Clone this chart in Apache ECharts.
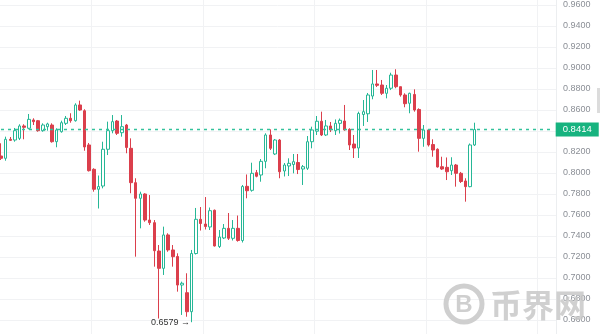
<!DOCTYPE html>
<html><head><meta charset="utf-8">
<script src="https://cdn.jsdelivr.net/npm/echarts/dist/echarts.min.js"></script>
<style>html,body{margin:0;padding:0;background:#fff}#c{width:600px;height:334px}</style>
</head><body><div id="c"></div>
<script>
// OHLC values (103 candles)
const opens = [0.8162,0.8140,0.8321,0.8314,0.8330,0.8448,0.8426,0.8505,0.8498,0.8403,
0.8441,0.8457,0.8298,0.8393,0.8473,0.8521,0.8498,0.8648,0.8593,0.8267,
0.8035,0.7845,0.7876,0.8226,0.8403,0.8495,0.8384,0.8457,0.8235,0.7908,
0.7759,0.7800,0.7552,0.7527,0.7257,0.7092,0.7410,0.7267,0.7205,0.6933,
0.6860,0.6679,0.7233,0.7559,0.7514,0.7486,0.7645,0.7300,0.7381,0.7473,
0.7378,0.7473,0.7357,0.7873,0.7835,0.8003,0.7981,0.8111,0.8362,0.8181,
0.8314,0.8019,0.8067,0.8081,0.8100,0.8038,0.8045,0.8298,0.8398,0.8493,
0.8362,0.8448,0.8403,0.8473,0.8495,0.8416,0.8276,0.8238,0.8557,0.8564,
0.8733,0.8848,0.8838,0.8759,0.8807,0.8933,0.8822,0.8743,0.8664,0.8748,
0.8605,0.8330,0.8410,0.8271,0.8226,0.8060,0.8054,0.8022,0.8076,0.7997,
0.7924,0.7870,0.8267];
const closes = [0.8140,0.8321,0.8311,0.8403,0.8448,0.8435,0.8511,0.8489,0.8403,0.8457,
0.8467,0.8298,0.8410,0.8479,0.8521,0.8498,0.8648,0.8600,0.8248,0.8022,
0.7845,0.7871,0.8226,0.8403,0.8489,0.8378,0.8441,0.8243,0.7908,0.7759,
0.7800,0.7552,0.7527,0.7260,0.7092,0.7410,0.7267,0.7203,0.6933,0.6950,
0.6679,0.7233,0.7559,0.7519,0.7490,0.7641,0.7305,0.7390,0.7473,0.7378,
0.7473,0.7357,0.7871,0.7831,0.7997,0.7969,0.8111,0.8362,0.8235,0.8314,
0.8012,0.8076,0.8092,0.8108,0.8033,0.8060,0.8298,0.8410,0.8493,0.8362,
0.8448,0.8410,0.8473,0.8502,0.8410,0.8267,0.8238,0.8567,0.8584,0.8743,
0.8848,0.8835,0.8759,0.8807,0.8933,0.8822,0.8743,0.8660,0.8759,0.8600,
0.8330,0.8410,0.8267,0.8219,0.8057,0.8038,0.8012,0.8076,0.7997,0.7919,
0.7870,0.8267,0.8414];
const lows = [0.8124,0.8117,0.8305,0.8298,0.8314,0.8321,0.8416,0.8457,0.8393,0.8393,
0.8403,0.8289,0.8245,0.8384,0.8457,0.8479,0.8489,0.8593,0.8212,0.8014,
0.7822,0.7662,0.7854,0.8171,0.8378,0.8362,0.8346,0.8188,0.7807,0.7203,
0.7473,0.7536,0.7505,0.7108,0.6614,0.7029,0.7250,0.7108,0.6870,0.6648,
0.6631,0.6579,0.7224,0.7452,0.7462,0.7457,0.7300,0.7286,0.7371,0.7362,
0.7357,0.7346,0.7338,0.7759,0.7822,0.7959,0.7917,0.8045,0.8219,0.8171,
0.7950,0.7967,0.7971,0.7997,0.7990,0.7886,0.8029,0.8235,0.8362,0.8352,
0.8352,0.8390,0.8362,0.8376,0.8403,0.8219,0.8143,0.8143,0.8448,0.8486,
0.8702,0.8819,0.8743,0.8711,0.8790,0.8807,0.8727,0.8626,0.8569,0.8584,
0.8203,0.8250,0.8252,0.8155,0.8052,0.8029,0.7933,0.7981,0.7870,0.7905,
0.7727,0.7864,0.8257];
const highs = [0.8283,0.8346,0.8343,0.8429,0.8464,0.8464,0.8562,0.8521,0.8505,0.8473,
0.8479,0.8473,0.8426,0.8498,0.8543,0.8569,0.8664,0.8689,0.8607,0.8286,
0.8045,0.7976,0.8298,0.8489,0.8552,0.8505,0.8552,0.8467,0.8330,0.7950,
0.7822,0.7807,0.7790,0.7552,0.7314,0.7489,0.7426,0.7314,0.7235,0.6965,
0.7045,0.7267,0.7667,0.7676,0.7771,0.7671,0.7652,0.7457,0.7514,0.7619,
0.7552,0.7595,0.7886,0.7986,0.8098,0.8029,0.8133,0.8378,0.8416,0.8324,
0.8324,0.8095,0.8140,0.8181,0.8181,0.8076,0.8352,0.8441,0.8543,0.8584,
0.8505,0.8486,0.8510,0.8519,0.8648,0.8426,0.8362,0.8584,0.8695,0.8762,
0.8981,0.8981,0.8886,0.8838,0.8955,0.8988,0.8822,0.8759,0.8765,0.8797,
0.8616,0.8457,0.8416,0.8321,0.8235,0.8155,0.8148,0.8150,0.8086,0.8010,
0.7950,0.8281,0.8479];
const emptySlots = 17; // blank space to the right of the last candle
const yTicks = {min: 0.64, max: 0.98, step: 0.02};
const lastPrice = closes[closes.length - 1];

const categories = opens.map((_, i) => 'K' + (i + 1));
for (let i = 0; i < emptySlots; i++) categories.push('');
const kData = opens.map((o, i) => [o, closes[i], lows[i], highs[i]]);
const lastLine = categories.map(() => lastPrice); // horizontal current-price line

const UP = '#26b796', DOWN = '#db3f4c', LAST = '#34c29c';
const FONT = 'Liberation Sans, Arial, sans-serif';
const chart = echarts.init(document.getElementById('c'), null, {renderer: 'canvas'});
chart.setOption({
  animation: false,
  backgroundColor: '#ffffff',
  grid: {left: -1.32, right: 44, top: -16, bottom: -7, containLabel: false, outerBoundsMode: 'none'},
  xAxis: {
    type: 'category', data: categories, boundaryGap: true,
    axisLine: {show: false}, axisTick: {show: false}, axisLabel: {show: false},
    splitLine: {show: true, interval: (i) => i % 24 === 20, lineStyle: {color: '#f1f2f4', width: 1}}
  },
  yAxis: {
    type: 'value', position: 'right', scale: true,
    min: yTicks.min, max: yTicks.max, interval: yTicks.step,
    axisLine: {show: true, lineStyle: {color: '#eceef0'}},
    axisTick: {show: false},
    axisLabel: {
      margin: 7, color: '#8b8f96', fontSize: 9, fontFamily: FONT,
      formatter: (v) => Math.abs(v - 0.84) < 1e-6 ? '' : v.toFixed(4)
    },
    splitLine: {show: true, lineStyle: {color: '#f1f2f4', width: 1}}
  },
  series: [{
    type: 'candlestick',
    data: kData,
    barWidth: 3,
    clip: false,
    z: 3,
    itemStyle: {color: '#ffffff', color0: DOWN, borderColor: UP, borderColor0: DOWN, borderWidth: 1},
    markPoint: {
      symbol: 'circle', symbolSize: 1,
      itemStyle: {color: 'rgba(0,0,0,0)'},
      label: {
        show: true, position: 'left', distance: 1,
        color: '#333', fontSize: 9, fontFamily: FONT,
        formatter: (p) => Number(p.value).toFixed(4) + ' \u2192'
      },
      data: [{type: 'min', valueDim: 'lowest'}]
    }
  }, {
    type: 'line',
    data: lastLine,
    symbol: 'none',
    silent: true,
    z: 4,
    itemStyle: {color: LAST},
    lineStyle: {color: LAST, type: [3, 4], width: 1.6},
    endLabel: {
      show: true, distance: 2,
      formatter: () => lastPrice.toFixed(4),
      backgroundColor: '#17b37f', color: '#ffffff', fontSize: 9.5, fontFamily: FONT,
      padding: [2, 7, 2, 7]
    }
  }],
  graphic: [
    {type: 'rect', shape: {x: 597, y: 88, width: 3, height: 25}, style: {fill: '#dcdcdc'}, z: 10},
    {type: 'circle', shape: {cx: 464, cy: 304, r: 18}, style: {fill: 'none', stroke: '#cfcfcf', lineWidth: 5}, z: 10, silent: true},
    {type: 'text', x: 464, y: 305, style: {text: 'B', fill: '#cfcfcf', font: 'bold 24px "Liberation Sans", Arial, sans-serif', align: 'center', verticalAlign: 'middle'}, z: 10, silent: true},
    {type: 'text', x: 490, y: 305, style: {text: '币界网', fill: 'rgba(200,200,200,0.85)', font: 'bold 32px "Noto Sans CJK SC", sans-serif', align: 'left', verticalAlign: 'middle'}, z: 10, silent: true}
  ]
});
</script>
</body></html>
